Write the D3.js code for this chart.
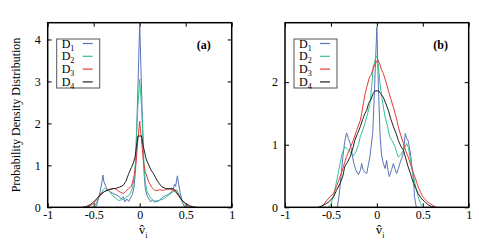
<!DOCTYPE html>
<html lang="en">
<head>
<meta charset="UTF-8">
<title>PDF of v_i</title>
<script src="https://d3js.org/d3.v7.min.js"></script>
<style>
  body { margin: 0; background: #fff; }
  text { font-family: "Liberation Serif", "DejaVu Serif", serif; }
</style>
</head>
<body>
<svg id="chart" width="479" height="241"></svg>
<script>
// ---- data ----
const seriesNames = ["D1", "D2", "D3", "D4"];
const seriesColors = ["#5a72b8", "#34c28e", "#e63a3a", "#222222"];
const xTicks = [-1, -0.5, 0, 0.5, 1];
const yTicksA = [0, 1, 2, 3, 4];
const yTicksB = [0, 1, 2];

// panel (a)
const a1 = [[-0.50,0],[-0.47,0.03],[-0.45,0.2],[-0.43,0.38],[-0.41,0.6],[-0.40,0.77],[-0.39,0.62],[-0.37,0.5],[-0.35,0.42],[-0.32,0.37],[-0.29,0.33],[-0.26,0.3],[-0.23,0.27],[-0.2,0.2],[-0.18,0.25],[-0.16,0.13],[-0.14,0.2],[-0.12,0.14],[-0.10,0.22],[-0.08,0.3],[-0.06,0.5],[-0.045,0.9],[-0.035,1.7],[-0.02,2.8],[0,4.4],[0.02,2.8],[0.035,1.7],[0.045,0.9],[0.06,0.45],[0.08,0.28],[0.10,0.2],[0.12,0.13],[0.14,0.18],[0.16,0.12],[0.18,0.17],[0.2,0.14],[0.22,0.18],[0.25,0.24],[0.28,0.28],[0.31,0.3],[0.34,0.36],[0.36,0.4],[0.38,0.55],[0.39,0.5],[0.41,0.75],[0.42,0.6],[0.44,0.35],[0.46,0.15],[0.48,0.03],[0.5,0]];
const a2 = [[-0.52,0],[-0.49,0.03],[-0.46,0.15],[-0.43,0.3],[-0.40,0.41],[-0.38,0.45],[-0.35,0.42],[-0.32,0.35],[-0.29,0.27],[-0.26,0.22],[-0.23,0.16],[-0.20,0.18],[-0.17,0.2],[-0.14,0.25],[-0.11,0.3],[-0.08,0.45],[-0.06,0.7],[-0.045,1.1],[-0.035,1.7],[-0.02,2.4],[0,3.05],[0.02,2.4],[0.035,1.7],[0.045,1.1],[0.06,0.6],[0.08,0.38],[0.11,0.25],[0.14,0.18],[0.17,0.13],[0.2,0.15],[0.23,0.18],[0.26,0.2],[0.29,0.25],[0.32,0.3],[0.35,0.35],[0.37,0.38],[0.4,0.42],[0.42,0.35],[0.44,0.22],[0.47,0.08],[0.5,0.01],[0.52,0]];
const a3 = [[-0.58,0],[-0.54,0.03],[-0.5,0.1],[-0.46,0.2],[-0.42,0.3],[-0.38,0.38],[-0.35,0.42],[-0.31,0.44],[-0.27,0.45],[-0.24,0.4],[-0.21,0.36],[-0.18,0.33],[-0.15,0.38],[-0.12,0.45],[-0.09,0.5],[-0.06,0.75],[-0.04,1.05],[-0.02,1.6],[0,2.05],[0.02,1.6],[0.04,1.1],[0.06,0.85],[0.08,0.72],[0.1,0.6],[0.13,0.48],[0.16,0.41],[0.19,0.4],[0.22,0.42],[0.25,0.4],[0.28,0.42],[0.31,0.44],[0.34,0.43],[0.37,0.4],[0.40,0.34],[0.42,0.28],[0.45,0.2],[0.48,0.12],[0.51,0.05],[0.55,0.01],[0.58,0]];
const a4 = [[-0.62,0],[-0.58,0.02],[-0.54,0.06],[-0.5,0.13],[-0.46,0.22],[-0.42,0.32],[-0.38,0.38],[-0.34,0.41],[-0.3,0.44],[-0.26,0.45],[-0.22,0.48],[-0.18,0.52],[-0.15,0.62],[-0.12,0.8],[-0.09,0.95],[-0.07,1.05],[-0.05,1.2],[-0.035,1.45],[-0.02,1.7],[0.02,1.7],[0.035,1.5],[0.05,1.35],[0.07,1.15],[0.09,1.05],[0.12,0.9],[0.15,0.8],[0.17,0.72],[0.2,0.6],[0.24,0.49],[0.28,0.45],[0.32,0.44],[0.35,0.45],[0.38,0.42],[0.42,0.3],[0.46,0.17],[0.5,0.09],[0.54,0.04],[0.58,0.01],[0.62,0]];

// panel (b)
const b1 = [[-0.43,0],[-0.41,0.2],[-0.39,0.5],[-0.37,0.8],[-0.35,1.05],[-0.33,1.19],[-0.31,1.1],[-0.29,1.02],[-0.27,0.85],[-0.25,0.7],[-0.23,0.6],[-0.2,0.52],[-0.18,0.59],[-0.165,0.7],[-0.15,0.6],[-0.13,0.56],[-0.11,0.54],[-0.09,0.7],[-0.075,0.81],[-0.06,1.0],[-0.045,1.18],[-0.03,1.71],[-0.015,2.3],[0,2.88],[0.016,1.98],[0.034,1.18],[0.05,0.85],[0.07,0.7],[0.09,0.62],[0.107,0.75],[0.12,0.6],[0.136,0.49],[0.16,0.6],[0.18,0.7],[0.2,0.6],[0.216,0.54],[0.235,0.62],[0.25,0.7],[0.27,0.78],[0.287,0.86],[0.31,1.18],[0.325,1.1],[0.34,1.07],[0.355,0.95],[0.37,0.81],[0.385,0.6],[0.4,0.44],[0.41,0.17],[0.43,0]];
const b2 = [[-0.53,0],[-0.5,0.05],[-0.47,0.2],[-0.44,0.4],[-0.41,0.62],[-0.38,0.85],[-0.35,0.97],[-0.32,0.93],[-0.29,0.89],[-0.26,0.82],[-0.23,0.88],[-0.2,1.0],[-0.18,1.13],[-0.15,1.25],[-0.13,1.34],[-0.1,1.5],[-0.075,1.65],[-0.055,1.95],[-0.04,2.24],[-0.015,2.38],[0,2.42],[0.015,2.3],[0.034,1.98],[0.06,1.7],[0.09,1.44],[0.115,1.3],[0.14,1.13],[0.17,1.05],[0.198,0.97],[0.215,0.88],[0.234,0.8],[0.26,0.84],[0.29,0.91],[0.325,1.02],[0.345,0.95],[0.36,0.81],[0.38,0.65],[0.4,0.49],[0.425,0.32],[0.45,0.17],[0.475,0.06],[0.5,0.01],[0.52,0]];
const b3 = [[-0.62,0],[-0.58,0.04],[-0.55,0.1],[-0.51,0.17],[-0.47,0.22],[-0.44,0.33],[-0.40,0.49],[-0.37,0.62],[-0.33,0.81],[-0.29,0.95],[-0.257,1.07],[-0.22,1.23],[-0.18,1.39],[-0.165,1.5],[-0.147,1.66],[-0.13,1.8],[-0.11,1.92],[-0.08,2.08],[-0.06,2.12],[-0.04,2.22],[-0.02,2.28],[0.01,2.36],[0.03,2.3],[0.05,2.2],[0.07,2.14],[0.1,2.0],[0.125,1.87],[0.15,1.74],[0.18,1.6],[0.21,1.44],[0.234,1.29],[0.26,1.15],[0.29,1.02],[0.315,0.9],[0.34,0.81],[0.37,0.67],[0.4,0.54],[0.425,0.44],[0.45,0.33],[0.475,0.24],[0.5,0.17],[0.53,0.12],[0.56,0.08],[0.58,0.06],[0.61,0.03],[0.65,0]];
const b4 = [[-0.64,0],[-0.6,0.02],[-0.56,0.05],[-0.52,0.09],[-0.47,0.17],[-0.44,0.27],[-0.4,0.38],[-0.37,0.5],[-0.35,0.65],[-0.32,0.72],[-0.29,0.81],[-0.26,0.95],[-0.24,1.07],[-0.21,1.18],[-0.18,1.29],[-0.155,1.4],[-0.13,1.5],[-0.11,1.55],[-0.09,1.66],[-0.065,1.72],[-0.04,1.82],[-0.02,1.86],[0.02,1.86],[0.04,1.82],[0.07,1.76],[0.1,1.65],[0.125,1.55],[0.15,1.42],[0.18,1.29],[0.21,1.18],[0.234,1.07],[0.26,0.98],[0.29,0.91],[0.315,0.78],[0.34,0.65],[0.37,0.52],[0.4,0.38],[0.425,0.3],[0.45,0.22],[0.48,0.15],[0.52,0.09],[0.56,0.04],[0.6,0.01],[0.63,0]];

const svg = d3.select("#chart");
const plotTop = 22.7, plotBottom = 207.3;

function drawPanel(left, right, yMax, yTicks, series, tag) {
    const x = d3.scaleLinear().domain([-1, 1]).range([left, right]);
    const y = d3.scaleLinear().domain([0, yMax]).range([plotBottom, plotTop]);
    const g = svg.append("g");

    const clipId = "clip-" + tag;
    g.append("clipPath").attr("id", clipId)
        .append("rect").attr("x", left).attr("y", plotTop)
        .attr("width", right - left).attr("height", plotBottom - plotTop);

    // ticks (inward, mirrored)
    const fmt = d => String(d);
    const xb = g.append("g").attr("transform", `translate(0,${plotBottom})`)
        .call(d3.axisBottom(x).tickValues(xTicks).tickFormat(fmt).tickSizeInner(-4).tickSizeOuter(0).tickPadding(3));
    const xt = g.append("g").attr("transform", `translate(0,${plotTop})`)
        .call(d3.axisTop(x).tickValues(xTicks).tickFormat("").tickSizeInner(-4).tickSizeOuter(0));
    const yl = g.append("g").attr("transform", `translate(${left},0)`)
        .call(d3.axisLeft(y).tickValues(yTicks).tickFormat(fmt).tickSizeInner(-4).tickSizeOuter(0).tickPadding(7));
    const yr = g.append("g").attr("transform", `translate(${right},0)`)
        .call(d3.axisRight(y).tickValues(yTicks).tickFormat("").tickSizeInner(-4).tickSizeOuter(0));
    [xb, xt, yl, yr].forEach(a => {
        a.select(".domain").remove();
        a.selectAll("line").attr("stroke", "#000");
        a.selectAll("text").attr("font-family", "Liberation Serif").attr("font-size", 12).attr("fill", "#000");
    });

    // curves
    const line = d3.line().x(d => x(d[0])).y(d => y(d[1]));
    g.append("g").attr("clip-path", `url(#${clipId})`)
        .selectAll("path").data(series).join("path")
        .attr("d", line)
        .attr("fill", "none")
        .attr("stroke", (d, i) => seriesColors[i])
        .attr("stroke-width", 1);

    // frame
    g.append("rect").attr("x", left).attr("y", plotTop)
        .attr("width", right - left).attr("height", plotBottom - plotTop)
        .attr("fill", "none").attr("stroke", "#000").attr("stroke-width", 1.5);

    // legend
    const lx = left + 9, ly = 39;
    g.append("rect").attr("x", lx).attr("y", ly).attr("width", 43).attr("height", 49)
        .attr("fill", "#fff").attr("stroke", "#555").attr("stroke-width", 1);
    seriesNames.forEach((name, i) => {
        const cy = 43.5 + i * 12.8;
        const t = g.append("text").attr("x", lx + 5).attr("y", cy + 4)
            .attr("font-size", 12).attr("fill", "#000");
        t.append("tspan").text(name[0]);
        t.append("tspan").attr("font-size", 8).attr("dy", 3).text(name.slice(1));
        g.append("line").attr("x1", lx + 26).attr("x2", lx + 36)
            .attr("y1", cy).attr("y2", cy)
            .attr("stroke", seriesColors[i]).attr("stroke-width", 1.2);
    });

    // panel tag
    g.append("text").attr("x", right - 28).attr("y", 49)
        .attr("text-anchor", "middle")
        .attr("font-family", "Liberation Sans, Arial, sans-serif")
        .attr("font-weight", "bold").attr("font-size", 12)
        .text(`(${tag})`);

    // x label: v-hat with subscript i
    const lab = g.append("text").attr("x", x(0) - 1).attr("y", 234)
        .attr("font-size", 13);
    lab.append("tspan").text("v\u0302");
    lab.append("tspan").attr("font-size", 8).attr("dy", 4).text("i");
}

drawPanel(47.7, 231.7, 4.4, yTicksA, [a1, a2, a3, a4], "a");
drawPanel(285, 468.7, 2.95, yTicksB, [b1, b2, b3, b4], "b");

svg.append("text")
    .attr("transform", "translate(20,115) rotate(-90)")
    .attr("text-anchor", "middle")
    .attr("font-size", 12)
    .text("Probability Density Distribution");
</script>
</body>
</html>
